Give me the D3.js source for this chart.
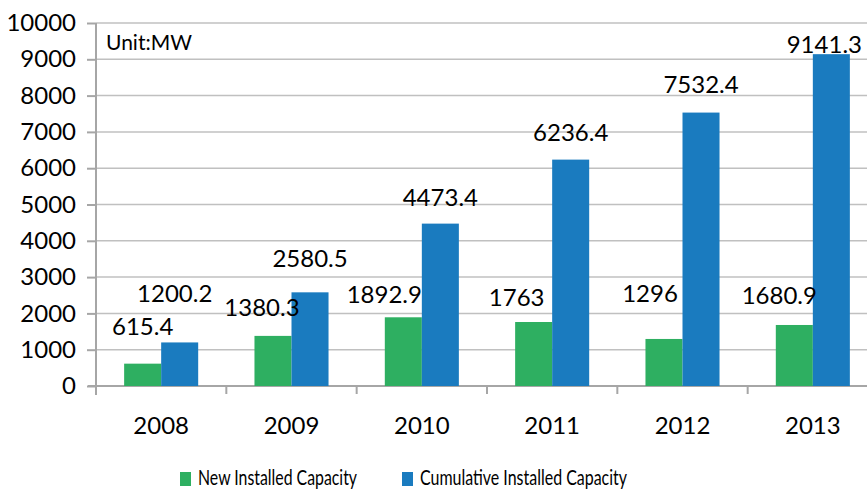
<!DOCTYPE html>
<html>
<head>
<meta charset="utf-8">
<script src="https://cdn.jsdelivr.net/npm/d3@7"></script>
<style>
  body { margin: 0; background: #fff; overflow: hidden; }
  text { font-family: Lato, "Open Sans", sans-serif; fill: #000; }
</style>
</head>
<body>
<div id="chart"></div>
<script>
// chart values
const years = ["2008", "2009", "2010", "2011", "2012", "2013"];
const newCapacity = [615.4, 1380.3, 1892.9, 1763, 1296, 1680.9];
const cumCapacity = [1200.2, 2580.5, 4473.4, 6236.4, 7532.4, 9141.3];
const seriesNames = ["New Installed Capacity", "Cumulative Installed Capacity"];
const yTicks = [0, 1000, 2000, 3000, 4000, 5000, 6000, 7000, 8000, 9000, 10000];

// label nudges (px) from the top-centre of each bar, as placed in the original
const newNudge = [[0, -38], [-11, -29], [-19, -24], [-17, -26], [-14, -46], [-15, -30]];
const cumNudge = [[-5, -50], [0, -35], [0, -27], [0, -28], [0, -29], [-7, -11]];

const colors = ["#2eaf61", "#1a7bbf"];

let width = 867, height = 490;

let svg = d3.select("#chart")
  .append("svg")
    .attr("width", width)
    .attr("height", height);

// scales
let x = d3.scaleBand()
  .domain(years)
  .range([96, 878]);

let xSub = d3.scaleBand()
  .domain([0, 1])
  .range([0, x.bandwidth()])
  .paddingOuter(0.76);

let y = d3.scaleLinear()
  .domain([0, 10000])
  .range([386, 23]);

// gridlines
svg.selectAll("grid")
  .data(yTicks.filter(d => d > 0))
  .enter().append("line")
    .attr("x1", 96).attr("x2", width)
    .attr("y1", d => y(d)).attr("y2", d => y(d))
    .style("stroke", "#c0c0c0")
    .style("stroke-width", 1.5);

// y axis
let yAxis = svg.append("g")
  .attr("transform", "translate(96,0)")
  .call(d3.axisLeft(y).tickValues(yTicks).tickSize(9).tickPadding(11).tickFormat(d3.format("d")));
yAxis.select(".domain").remove();
yAxis.append("line")
  .attr("x1", 0).attr("x2", 0)
  .attr("y1", y(0) + 9).attr("y2", y(10000))
  .style("stroke", "#a6a6a6").style("stroke-width", 2);
yAxis.selectAll(".tick line").style("stroke", "#a6a6a6").style("stroke-width", 2);
yAxis.selectAll(".tick text").style("font-size", "24px").style("font-family", "Lato");

// x axis
let xAxis = svg.append("g")
  .attr("transform", "translate(0," + y(0) + ")");
xAxis.append("line")
  .attr("x1", 88).attr("x2", width)
  .style("stroke", "#a6a6a6").style("stroke-width", 2);
xAxis.selectAll("xtick")
  .data(years).enter()
  .append("line")
    .attr("x1", d => x(d)).attr("x2", d => x(d))
    .attr("y1", 0).attr("y2", 8)
    .style("stroke", "#a6a6a6").style("stroke-width", 2);
xAxis.selectAll("xlab")
  .data(years).enter()
  .append("text")
    .attr("x", d => x(d) + x.bandwidth() / 2)
    .attr("y", 38)
    .attr("text-anchor", "middle")
    .attr("dominant-baseline", "central")
    .style("font-size", "24px")
    .text(d => d);

// bars
let series = [newCapacity, cumCapacity];
let nudges = [newNudge, cumNudge];

series.forEach(function(vals, s) {
  svg.selectAll("bar" + s)
    .data(vals).enter()
    .append("rect")
      .attr("x", (d, i) => x(years[i]) + xSub(s))
      .attr("width", xSub.bandwidth())
      .attr("y", d => y(d))
      .attr("height", d => y(0) - y(d))
      .style("fill", colors[s]);
});

// value labels
series.forEach(function(vals, s) {
  svg.selectAll("lab" + s)
    .data(vals).enter()
    .append("text")
      .attr("x", (d, i) => x(years[i]) + xSub(s) + xSub.bandwidth() / 2 + nudges[s][i][0])
      .attr("y", (d, i) => y(d) + nudges[s][i][1])
      .attr("text-anchor", "middle")
      .attr("dominant-baseline", "central")
      .style("font-size", "24px")
      .text(d => d);
});

// unit note
svg.append("text")
  .attr("x", 106).attr("y", 50)
  .style("font-size", "21px")
  .text("Unit:MW");

// legend
let legendX = [180, 402];
let legendW = [159, 207];
seriesNames.forEach(function(name, s) {
  svg.append("rect")
    .attr("x", legendX[s]).attr("y", 472)
    .attr("width", 11).attr("height", 14)
    .style("fill", colors[s]);
  svg.append("text")
    .attr("x", legendX[s] + 18).attr("y", 485)
    .attr("textLength", legendW[s])
    .attr("lengthAdjust", "spacingAndGlyphs")
    .style("font-size", "22px")
    .text(name);
});
</script>
</body>
</html>
